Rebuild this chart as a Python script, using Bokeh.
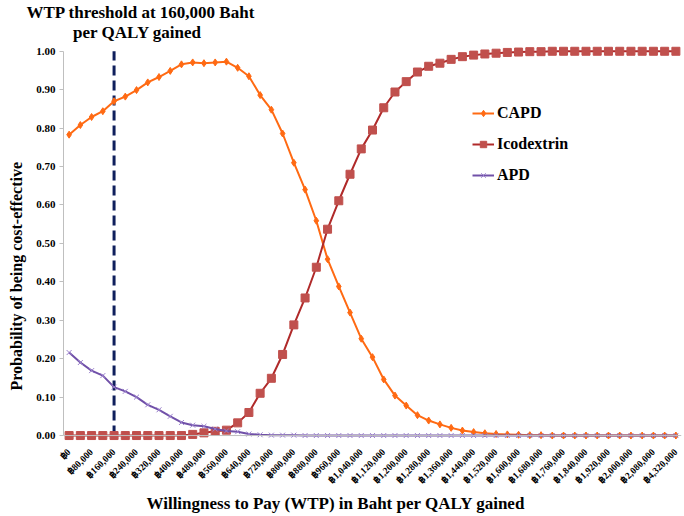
import math
from bokeh.plotting import figure
from bokeh.models import (ColumnDataSource, FixedTicker, Legend, LegendItem, Title, Label,
                          Span, NumeralTickFormatter, Range1d)
from bokeh.embed import file_html
from bokeh.resources import INLINE

# ---- data ----
wtp = [0, 40000, 80000, 120000, 160000, 200000, 240000, 280000, 320000, 360000,
       400000, 440000, 480000, 520000, 560000, 600000, 640000, 680000, 720000, 760000,
       800000, 840000, 880000, 920000, 960000, 1000000, 1040000, 1080000, 1120000, 1160000,
       1200000, 1240000, 1280000, 1320000, 1360000, 1400000, 1440000, 1480000, 1520000, 1560000,
       1600000, 1640000, 1680000, 1720000, 1760000, 1800000, 1840000, 1880000, 1920000, 1960000,
       2000000, 2040000, 2080000, 2120000, 4320000]

capd = [0.783, 0.808, 0.829, 0.844, 0.870, 0.882, 0.899, 0.919, 0.933, 0.949,
        0.966, 0.971, 0.969, 0.971, 0.973, 0.957, 0.935, 0.886, 0.848, 0.786,
        0.710, 0.640, 0.559, 0.459, 0.388, 0.320, 0.252, 0.204, 0.146, 0.104,
        0.078, 0.053, 0.039, 0.029, 0.020, 0.013, 0.009, 0.006, 0.004, 0.003,
        0.002, 0.001, 0.001, 0.000, 0.000, 0.000, 0.000, 0.000, 0.000, 0.000,
        0.000, 0.000, 0.000, 0.000, 0.000]

icodextrin = [0.000, 0.000, 0.000, 0.000, 0.000, 0.000, 0.000, 0.000, 0.000, 0.000,
              0.000, 0.003, 0.007, 0.011, 0.014, 0.033, 0.060, 0.110, 0.149, 0.211,
              0.288, 0.358, 0.438, 0.537, 0.611, 0.680, 0.746, 0.795, 0.853, 0.894,
              0.921, 0.946, 0.961, 0.969, 0.979, 0.986, 0.990, 0.993, 0.995, 0.997,
              0.998, 0.999, 0.999, 1.000, 1.000, 1.000, 1.000, 1.000, 1.000, 1.000,
              1.000, 1.000, 1.000, 1.000, 1.000]

apd = [0.216, 0.190, 0.169, 0.156, 0.126, 0.115, 0.100, 0.080, 0.067, 0.050,
       0.034, 0.027, 0.024, 0.017, 0.012, 0.010, 0.004, 0.002, 0.001, 0.001,
       0.001, 0.000, 0.000, 0.000, 0.000, 0.000, 0.000, 0.000, 0.000, 0.000,
       0.000, 0.000, 0.000, 0.000, 0.000, 0.000, 0.000, 0.000, 0.000, 0.000,
       0.000, 0.000, 0.000, 0.000, 0.000, 0.000, 0.000, 0.000, 0.000, 0.000,
       0.000, 0.000, 0.000, 0.000, 0.000]

tick_labels = ["\u0e3f{:,}".format(v) for v in wtp]
threshold = 160000
y_ticks = [0.0, 0.1, 0.2, 0.3, 0.4, 0.5, 0.6, 0.7, 0.8, 0.9, 1.0]

idx = list(range(len(wtp)))
src = ColumnDataSource(dict(x=idx, capd=capd, ico=icodextrin, apd=apd))

FONT = "Liberation Serif"

# frame spans canvas rows 20..443; value 0 sits at row 437 and value 1 at row 50
p = figure(width=684, height=516, output_backend="svg", toolbar_location=None,
           x_range=Range1d(-0.5, len(wtp) - 0.5), y_range=Range1d(-0.0155, 1.0775),
           min_border_left=62, min_border_right=3, min_border_top=20, min_border_bottom=73)
p.title.visible = False
p.outline_line_color = None
p.xgrid.grid_line_color = None
p.ygrid.grid_line_color = None
p.background_fill_color = "white"
p.border_fill_color = "white"

# y axis
p.yaxis.ticker = FixedTicker(ticks=y_ticks)
p.yaxis.bounds = (0, 1)
p.yaxis.formatter = NumeralTickFormatter(format="0.00")
p.yaxis.axis_line_color = "#BFBFBF"
p.yaxis.major_tick_line_color = "#BFBFBF"
p.yaxis.major_tick_out = 4
p.yaxis.major_tick_in = 0
p.yaxis.minor_tick_line_color = None
p.yaxis.major_label_standoff = 4
p.yaxis.major_label_text_font = FONT
p.yaxis.major_label_text_font_style = "bold"
p.yaxis.major_label_text_font_size = "11px"
p.yaxis.major_label_text_color = "black"

# x axis
p.xaxis.ticker = FixedTicker(ticks=idx[::2])
p.xaxis.major_label_overrides = {i: tick_labels[i] for i in idx}
p.xaxis.major_label_orientation = math.pi / 4
p.xaxis.axis_line_color = None
p.xaxis.major_tick_line_color = None
p.xaxis.minor_tick_line_color = None
p.xaxis.major_label_standoff = 3
p.xaxis.major_label_text_font = FONT
p.xaxis.major_label_text_font_style = "bold"
p.xaxis.major_label_text_font_size = "9.5px"
p.xaxis.major_label_text_color = "black"

# baseline for x axis at y = 0
p.add_layout(Span(location=0, dimension="width", line_color="#BFBFBF", line_width=1))

# threshold dashed line
thr_x = wtp.index(threshold)
p.segment(x0=[thr_x], y0=[0], x1=[thr_x], y1=[1.0], line_color="#0F1F5C",
          line_width=3, line_dash="10 5")

# series
c_line = p.line("x", "capd", source=src, line_color="#FF6A13", line_width=2)
c_mark = p.scatter("x", "capd", source=src, marker="diamond", size=7,
                   fill_color="#FF6A13", line_color="#FF6A13")
i_line = p.line("x", "ico", source=src, line_color="#B02A2A", line_width=2)
i_mark = p.scatter("x", "ico", source=src, marker="square", size=8,
                   fill_color="#C0504D", line_color="#C0504D")
a_line = p.line("x", "apd", source=src, line_color="#7050A8", line_width=2)
a_mark = p.scatter("x", "apd", source=src, marker="x", size=7,
                   line_color="#9A80CC", line_width=1)

legend = Legend(items=[
    LegendItem(label="CAPD", renderers=[c_line, c_mark]),
    LegendItem(label="Icodextrin", renderers=[i_line, i_mark]),
    LegendItem(label="APD", renderers=[a_line, a_mark]),
], location=(409, 257))
legend.label_text_font = FONT
legend.label_text_font_style = "bold"
legend.label_text_font_size = "16px"
legend.label_text_color = "black"
legend.glyph_width = 22
legend.glyph_height = 16
legend.label_height = 16
legend.label_standoff = 3
legend.spacing = 13
legend.padding = 0
legend.margin = 0
legend.border_line_color = None
legend.background_fill_alpha = 0
p.add_layout(legend)

# chart title: first line in the panel above, second line inside the frame
p.add_layout(Title(text="WTP threshold  at 160,000 Baht", align="left", offset=-37, standoff=0,
                   vertical_align="bottom", text_font=FONT, text_font_style="bold",
                   text_color="black", text_font_size="17px"), "above")
p.add_layout(Label(x=74, y=409.5, x_units="screen", y_units="screen", text="per QALY gained",
                   text_font=FONT, text_font_style="bold", text_color="black",
                   text_font_size="17px", text_align="center", text_baseline="alphabetic"))

# axis titles
common = dict(text_font=FONT, text_font_style="bold", text_color="black", align="left")
p.add_layout(Title(text="Willingness to Pay (WTP) in Baht per QALY gained", offset=83,
                   standoff=4, vertical_align="top", text_font_size="17px", **common), "below")
p.add_layout(Title(text="Probability of being cost-effective", offset=51, standoff=14,
                   vertical_align="top", text_font_size="16px", **common), "left")

open("out.html", "w").write(file_html(p, INLINE))
